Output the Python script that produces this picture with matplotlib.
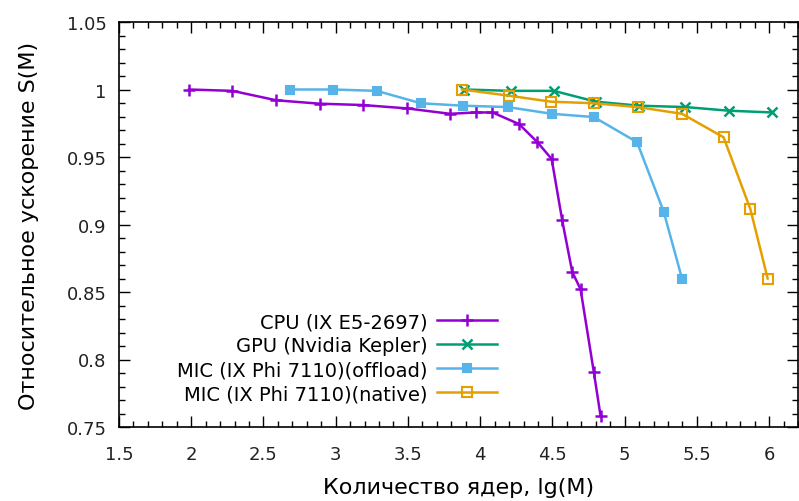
import matplotlib
matplotlib.use('Agg')
import matplotlib.pyplot as plt
from matplotlib.ticker import MultipleLocator

# series (x = lg(M), y = S(M))
cpu_x = [1.985, 2.285, 2.589, 2.888, 3.187, 3.494, 3.791, 3.970, 4.085,
         4.269, 4.396, 4.495, 4.568, 4.637, 4.695, 4.787, 4.833]
cpu_y = [1.000, 0.999, 0.992, 0.9895, 0.9885, 0.986, 0.982, 0.983, 0.983,
         0.9744, 0.961, 0.9485, 0.903, 0.865, 0.852, 0.7905, 0.7584]

gpu_x = [3.89, 4.21, 4.51, 4.80, 5.10, 5.42, 5.72, 6.02]
gpu_y = [1.000, 0.999, 0.999, 0.991, 0.988, 0.987, 0.9843, 0.983]

off_x = [2.681, 2.98, 3.284, 3.59, 3.88, 4.19, 4.495, 4.787, 5.086, 5.27, 5.397]
off_y = [1.000, 1.000, 0.999, 0.9898, 0.988, 0.987, 0.982, 0.9796, 0.961, 0.9096, 0.860]

nat_x = [3.874, 4.20, 4.488, 4.787, 5.09, 5.397, 5.685, 5.87, 5.99]
nat_y = [1.000, 0.9954, 0.991, 0.9898, 0.987, 0.982, 0.9646, 0.9115, 0.860]

labels = ['CPU (IX E5-2697)', 'GPU (Nvidia Kepler)',
          'MIC (IX Phi 7110)(offload)', 'MIC (IX Phi 7110)(native)']

fig = plt.figure(figsize=(7.99, 5.02), dpi=100)
ax = fig.add_axes([119/799, 1 - 428/502, (798-119)/799, (428-23)/502])

ax.plot(cpu_x, cpu_y, color='#9400d3', lw=1.8, marker='+', ms=9, mew=1.8, label=labels[0])
ax.plot(gpu_x, gpu_y, color='#009e73', lw=1.8, marker='x', ms=6.5, mew=1.8, label=labels[1])
ax.plot(off_x, off_y, color='#56b4e9', lw=1.8, marker='s', ms=6, mew=1.5, label=labels[2])
ax.plot(nat_x, nat_y, color='#e69f00', lw=1.8, marker='s', ms=6.5, mew=1.5,
        mfc='none', label=labels[3])

ax.set_xlim(1.5, 6.2)
ax.set_ylim(0.75, 1.05)
ax.xaxis.set_minor_locator(MultipleLocator(0.1))
ax.yaxis.set_minor_locator(MultipleLocator(0.01))
ax.set_xticks([1.5, 2, 2.5, 3, 3.5, 4, 4.5, 5, 5.5, 6],
              ['1.5', '2', '2.5', '3', '3.5', '4', '4.5', '5', '5.5', '6'])
ax.set_yticks([0.75, 0.8, 0.85, 0.9, 0.95, 1.0, 1.05],
              ['0.75', '0.8', '0.85', '0.9', '0.95', '1', '1.05'])
ax.tick_params(which='both', direction='in', top=True, right=True,
               labelsize=13, colors='black', labelcolor='#222222', width=1)
ax.tick_params(which='major', length=8)
ax.tick_params(which='minor', length=4)
ax.tick_params(axis='x', which='major', pad=13)
ax.tick_params(axis='y', which='major', pad=9)
for s in ax.spines.values():
    s.set_linewidth(1.2)

ax.set_xlabel('Количество ядер, lg(M)', fontsize=16, labelpad=10)
ax.set_ylabel('Относительное ускорение S(M)', fontsize=16, labelpad=20)

leg = ax.legend(loc='lower right', bbox_to_anchor=(507/799, (502-414)/502),
                bbox_transform=fig.transFigure, frameon=False, markerfirst=False,
                fontsize=14, handlelength=3.1, handletextpad=0.5,
                labelspacing=0.26, borderpad=0)

fig.savefig('out.png', dpi=100)
